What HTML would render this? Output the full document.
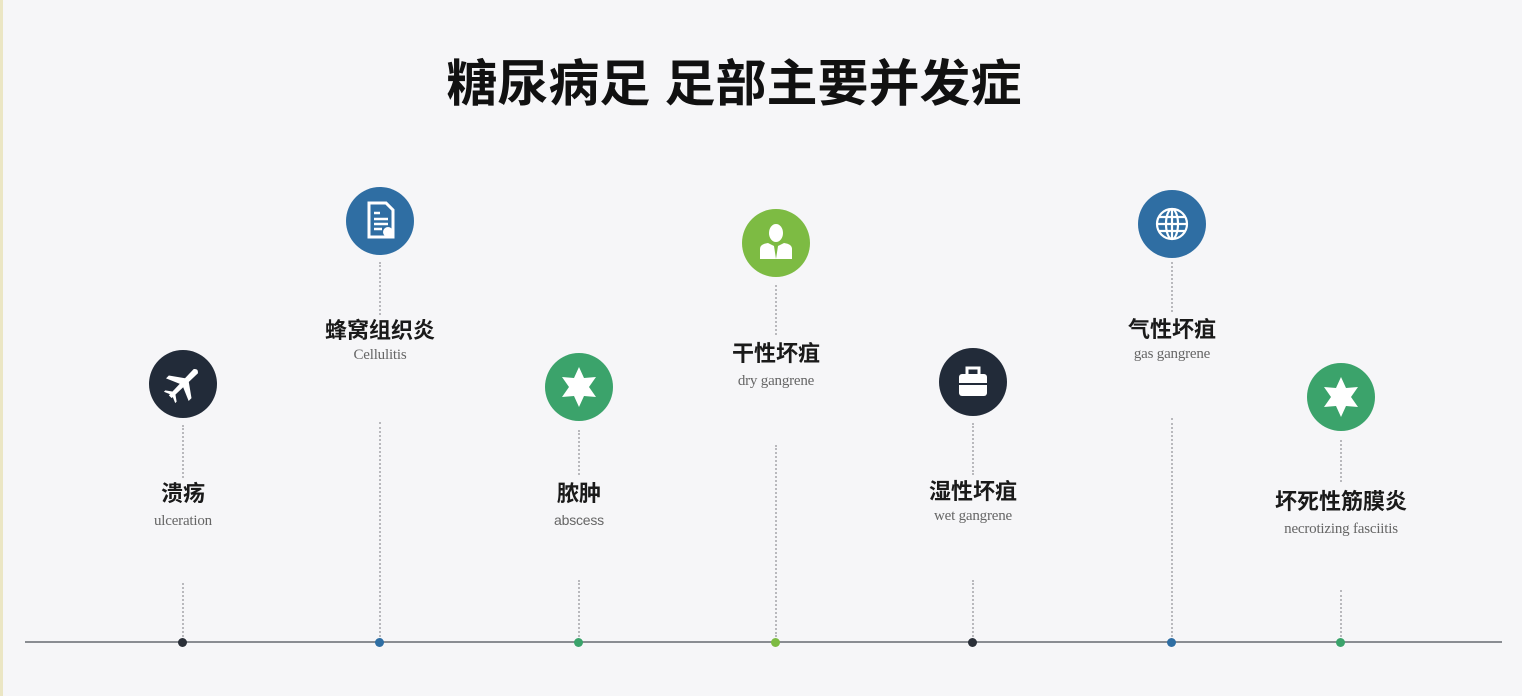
<!DOCTYPE html>
<html><head><meta charset="utf-8"><style>
html,body{margin:0;padding:0}
body{width:1522px;height:696px;background:#f6f6f8;position:relative;overflow:hidden;font-family:"Liberation Sans","Noto Sans CJK SC",sans-serif}
.t{position:absolute;left:0;width:1522px;top:52px;text-align:center;font-size:50px;font-weight:bold;color:#111;line-height:64px}
.t span{position:relative;left:-27px;display:inline-block;transform:scaleX(1.02)}
.c{position:absolute;width:68px;height:68px;border-radius:50%}
.c svg{position:absolute;left:0;top:0}
.v{position:absolute;width:0;border-left:2px dotted #b9b9bd}
.zh{position:absolute;width:240px;text-align:center;font-size:22px;font-weight:bold;color:#1a1a1a;line-height:26px}
.en{position:absolute;width:240px;text-align:center;font-family:"Liberation Serif",serif;font-size:15px;color:#666;line-height:17px;letter-spacing:-0.2px}
.dot{position:absolute;width:9px;height:9px;border-radius:50%;top:638px}
</style></head><body>
<div style="position:absolute;left:0;top:0;width:3px;height:696px;background:#ebe6c4"></div>
<div class="t"><span>糖尿病足 足部主要并发症</span></div>
<div style="position:absolute;left:25px;top:641px;width:1477px;height:2px;background:#8a8d92"></div>

<!-- 1 -->
<div class="c" style="left:149px;top:350px;background:#222b39"><svg width="68" height="68" viewBox="0 0 68 68"><g transform="translate(34 34) rotate(-45)" fill="#fff"><path d="M-18 -2 L18 -3 Q22 0 18 3 L-18 2 Z"/><path d="M-2 -2 L6 -2 L-4 -16 L-8 -16 Z"/><path d="M-2 2 L6 2 L-4 16 L-8 16 Z"/><path d="M-16 -1 L-12 -1 L-17 -8 L-19 -8 Z"/><path d="M-16 1 L-12 1 L-17 8 L-19 8 Z"/></g></svg></div>
<div class="v" style="left:182px;top:425px;height:53px"></div>
<div class="zh" style="left:63px;top:481px">溃疡</div>
<div class="en" style="left:63px;top:513px">ulceration</div>
<div class="v" style="left:182px;top:583px;height:54px"></div>
<div class="dot" style="left:178px;background:#2a2f38"></div>

<!-- 2 -->
<div class="c" style="left:346px;top:187px;background:#2f6ea3"><svg width="68" height="68" viewBox="0 0 68 68"><path d="M23 16 H40 L47 23 V50 H23 Z" fill="none" stroke="#fff" stroke-width="3"/><g stroke="#fff" stroke-width="2.5"><line x1="28" y1="26" x2="34" y2="26"/><line x1="28" y1="32" x2="42" y2="32"/><line x1="28" y1="37" x2="42" y2="37"/><line x1="28" y1="42" x2="36" y2="42"/></g><circle cx="42" cy="45" r="5" fill="#fff"/></svg></div>
<div class="v" style="left:379px;top:262px;height:53px"></div>
<div class="zh" style="left:260px;top:318px">蜂窝组织炎</div>
<div class="en" style="left:260px;top:347px">Cellulitis</div>
<div class="v" style="left:379px;top:422px;height:215px"></div>
<div class="dot" style="left:375px;background:#2f6ea3"></div>

<!-- 3 -->
<div class="c" style="left:545px;top:353px;background:#3ba36b"><svg width="68" height="68" viewBox="0 0 68 68"><g transform="translate(34 34)" fill="#fff"><polygon points="0,-20 5,-9 17,-10 10,0 17,10 5,9 0,20 -5,9 -17,10 -10,0 -17,-10 -5,-9"/><circle r="9"/></g></svg></div>
<div class="v" style="left:578px;top:430px;height:45px"></div>
<div class="zh" style="left:459px;top:481px">脓肿</div>
<div class="en" style="left:459px;top:512px;font-family:'Liberation Sans',sans-serif;font-size:14px">abscess</div>
<div class="v" style="left:578px;top:580px;height:57px"></div>
<div class="dot" style="left:574px;background:#3ba36b"></div>

<!-- 4 -->
<div class="c" style="left:742px;top:209px;background:#7dbb43"><svg width="68" height="68" viewBox="0 0 68 68" fill="#fff"><ellipse cx="34" cy="24" rx="7" ry="9"/><path d="M18 50 V40 Q18 35 26 34 L32 37 L34 50 Z"/><path d="M50 50 V40 Q50 35 42 34 L36 37 L34 50 Z"/></svg></div>
<div class="v" style="left:775px;top:285px;height:50px"></div>
<div class="zh" style="left:656px;top:341px">干性坏疽</div>
<div class="en" style="left:656px;top:373px">dry gangrene</div>
<div class="v" style="left:775px;top:445px;height:192px"></div>
<div class="dot" style="left:771px;background:#7dbb43"></div>

<!-- 5 -->
<div class="c" style="left:939px;top:348px;background:#222b39"><svg width="68" height="68" viewBox="0 0 68 68"><rect x="28" y="20" width="12" height="8" fill="none" stroke="#fff" stroke-width="3"/><rect x="20" y="26" width="28" height="22" rx="3" fill="#fff"/><line x1="20" y1="36" x2="48" y2="36" stroke="#222b39" stroke-width="2"/></svg></div>
<div class="v" style="left:972px;top:423px;height:52px"></div>
<div class="zh" style="left:853px;top:479px">湿性坏疽</div>
<div class="en" style="left:853px;top:508px">wet gangrene</div>
<div class="v" style="left:972px;top:580px;height:57px"></div>
<div class="dot" style="left:968px;background:#2a2f38"></div>

<!-- 6 -->
<div class="c" style="left:1138px;top:190px;background:#2f6ea3"><svg width="68" height="68" viewBox="0 0 68 68" fill="none" stroke="#fff" stroke-width="2.2"><circle cx="34" cy="34" r="15"/><ellipse cx="34" cy="34" rx="6" ry="15"/><line x1="34" y1="19" x2="34" y2="49"/><line x1="19" y1="34" x2="49" y2="34"/><line x1="21" y1="27" x2="47" y2="27"/><line x1="21" y1="41" x2="47" y2="41"/></svg></div>
<div class="v" style="left:1171px;top:262px;height:50px"></div>
<div class="zh" style="left:1052px;top:317px">气性坏疽</div>
<div class="en" style="left:1052px;top:346px">gas gangrene</div>
<div class="v" style="left:1171px;top:418px;height:219px"></div>
<div class="dot" style="left:1167px;background:#2f6ea3"></div>

<!-- 7 -->
<div class="c" style="left:1307px;top:363px;background:#3ba36b"><svg width="68" height="68" viewBox="0 0 68 68"><g transform="translate(34 34)" fill="#fff"><polygon points="0,-20 5,-9 17,-10 10,0 17,10 5,9 0,20 -5,9 -17,10 -10,0 -17,-10 -5,-9"/><circle r="9"/></g></svg></div>
<div class="v" style="left:1340px;top:440px;height:42px"></div>
<div class="zh" style="left:1221px;top:489px">坏死性筋膜炎</div>
<div class="en" style="left:1221px;top:521px">necrotizing fasciitis</div>
<div class="v" style="left:1340px;top:590px;height:47px"></div>
<div class="dot" style="left:1336px;background:#3ba36b"></div>
</body></html>
